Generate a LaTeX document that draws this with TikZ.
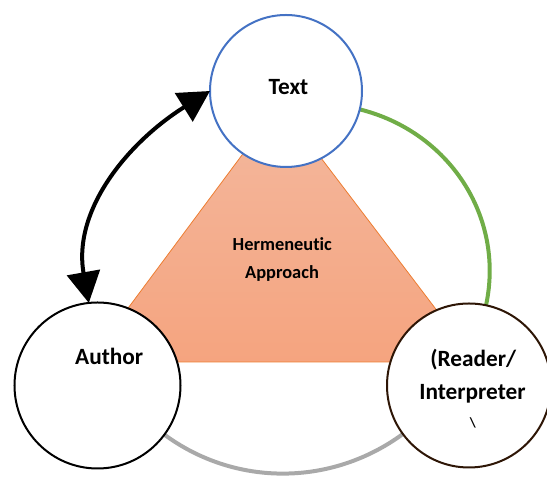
\documentclass[tikz,border=0pt]{standalone}
\usepackage{fontspec}
\setmainfont{Carlito}[RawFeature={-liga;-dlig;-clig}]
\usetikzlibrary{arrows.meta}
\pgfdeclarelayer{bg}
\pgfsetlayers{bg,main}
\definecolor{tblue}{HTML}{4472C4}
\definecolor{tgreen}{HTML}{70AD47}
\definecolor{tgray}{HTML}{A9A9A9}
\definecolor{torange}{HTML}{ED7D31}
\definecolor{ttop}{HTML}{F3B89E}
\definecolor{tbot}{HTML}{F5A47F}
\definecolor{tbrown}{HTML}{2E1606}
\begin{document}
\begin{tikzpicture}[x=1pt,y=1pt,
  ring/.style={circle, fill=white, line width=2pt, inner sep=0pt, outer sep=0pt},
  lbl/.style={font=\bfseries\fontsize{23.3}{28}\selectfont, anchor=base, inner sep=0pt},
  smalllbl/.style={font=\bfseries\fontsize{18.4}{22}\selectfont, anchor=base, inner sep=0pt},
  arcline/.style={line width=4pt},
  twotips/.style={line width=4pt, arrows={Triangle[length=31pt,width=33pt]-Triangle[length=31pt,width=33pt]}}
]
\useasboundingbox (0,0) rectangle (547,478);

% circles
\node[ring, draw=tblue, minimum size=152pt] (text) at (286,387) {};
\node[ring, draw=black, minimum size=166pt] (author) at (97.5,92.5) {};
\node[ring, draw=tbrown, minimum size=164pt] (reader) at (469,92.5) {};

% labels
\node[lbl] (ttext) at (288.5,383.7) {Text};
\node[lbl] (tauthor) at (109.2,113.7) {Author};
\node[lbl] (treader1) at (473.3,111.3) {(Reader/};
\node[lbl] (treader2) at (472.5,78) {Interpreter};
\node[font=\bfseries\fontsize{14}{16}\selectfont, inner sep=0pt] (treader3) at (473,55) {\textbackslash};

\begin{pgfonlayer}{bg}
  % hermeneutic triangle
  \path[draw=torange, line width=0.8pt, top color=ttop, bottom color=tbot]
    (280,374) -- (88,116) -- (476,116) -- cycle;
  % connecting arcs
  \draw[arcline, tgreen] (text) to[out=-14, in=78] (reader);
  \draw[arcline, tgray] (author) to[out=-36.6, in=216.5, looseness=0.95] (reader);
\end{pgfonlayer}

\node[smalllbl] (therm1) at (282.3,227.3) {Hermeneutic};
\node[smalllbl] (therm2) at (282,199.7) {Approach};

% double arrow author <-> text
\draw[twotips] (text.west) to[out=212, in=100] (author.96);
\end{tikzpicture}
\end{document}
